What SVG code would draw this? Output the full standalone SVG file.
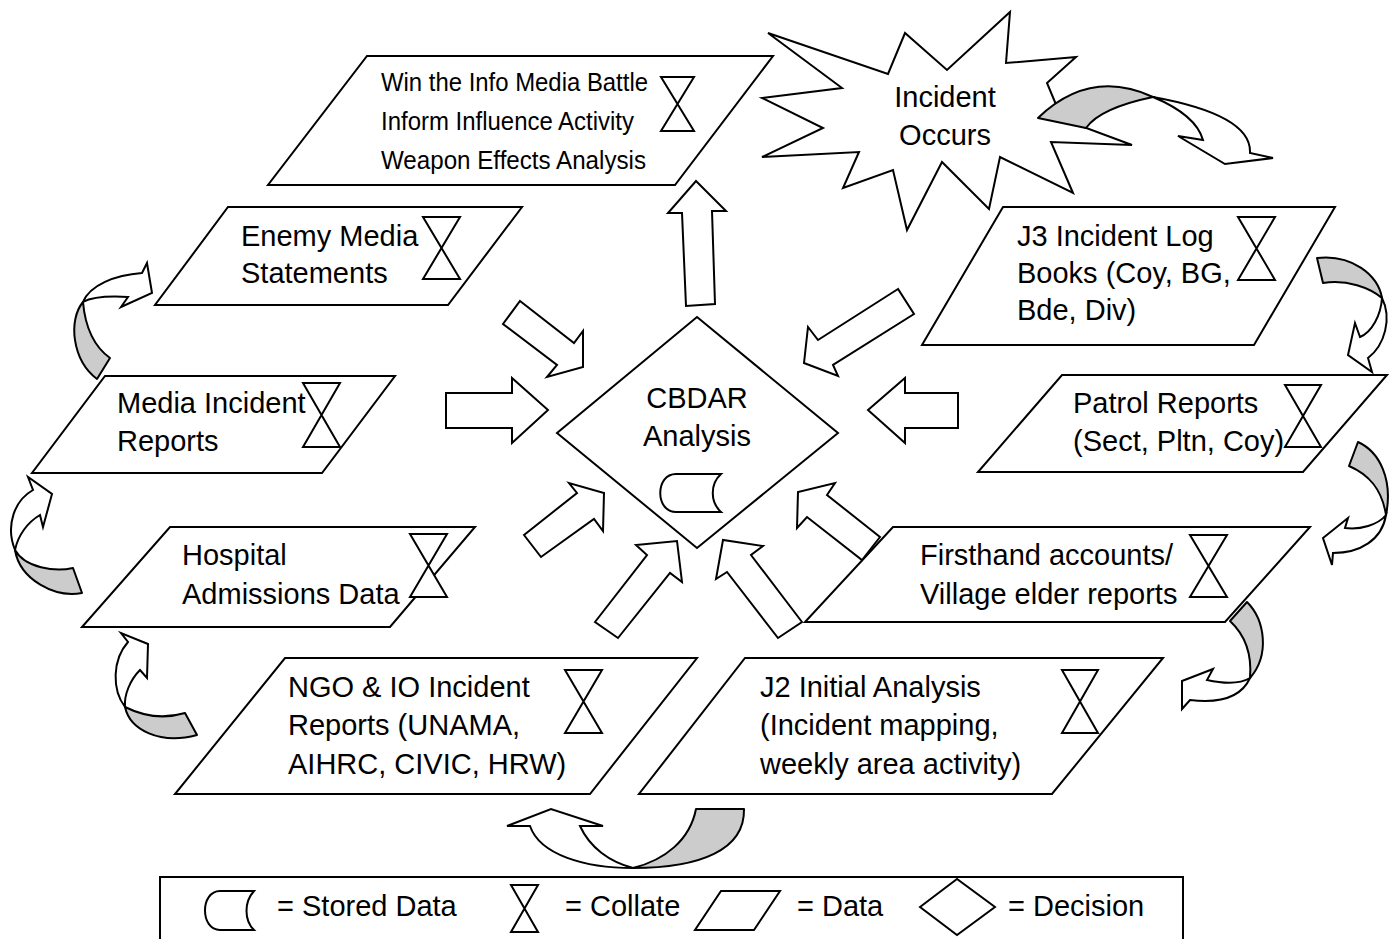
<svg xmlns="http://www.w3.org/2000/svg" width="1400" height="939" viewBox="0 0 1400 939">
<style>
.n{fill:#fff;stroke:#000;stroke-width:2;stroke-linejoin:miter}
.h{fill:#fff;stroke:#000;stroke-width:2}
.g{fill:#cccccc;stroke:#000;stroke-width:2;stroke-linejoin:round}
.w{fill:#fff;stroke:#000;stroke-width:2;stroke-linejoin:miter}
.t{font-family:"Liberation Sans",Arial,sans-serif;font-size:29px;fill:#000}
.s{font-family:"Liberation Sans",Arial,sans-serif;font-size:25px;fill:#000}
.c{text-anchor:middle}
</style>
<rect width="1400" height="939" fill="#fff"/>

<g id="node-incident">
<polygon class="n" points="768,33 888,74 905,33 947,70 1010,12 1006,63 1076,57 1047,83 1062,119 1132,145 1051,142 1073,193 1000,157 989,209 942,162 907,230 893,170 843,188 859,152 762,157 823,128 762,98 842,88"/>
<text class="t c" x="945" y="107">Incident</text>
<text class="t c" x="945" y="145">Occurs</text>
</g>

<g id="node-info">
<polygon class="n" points="367,56 773,56 675,185 268,185"/>
<text class="s" x="381" y="91" textLength="267" lengthAdjust="spacingAndGlyphs">Win the Info Media Battle</text>
<text class="s" x="381" y="130" textLength="253" lengthAdjust="spacingAndGlyphs">Inform Influence Activity</text>
<text class="s" x="381" y="169" textLength="265" lengthAdjust="spacingAndGlyphs">Weapon Effects Analysis</text>
<polygon class="h" points="661,77 694,77 661,131 694,131"/>
</g>

<g id="node-enemy">
<polygon class="n" points="228,207 522,207 448,305 155,305"/>
<text class="t" x="241" y="246">Enemy Media</text>
<text class="t" x="241" y="283">Statements</text>
<polygon class="h" points="423,217 460,217 423,279 460,279"/>
</g>

<g id="node-j3">
<polygon class="n" points="1003,207 1335,207 1254,345 922,345"/>
<text class="t" x="1017" y="246">J3 Incident Log</text>
<text class="t" x="1017" y="283">Books (Coy, BG,</text>
<text class="t" x="1017" y="320">Bde, Div)</text>
<polygon class="h" points="1238,217 1275,217 1238,280 1275,280"/>
</g>

<g id="node-media">
<polygon class="n" points="105,376 395,376 322,473 32,473"/>
<text class="t" x="117" y="413">Media Incident</text>
<text class="t" x="117" y="451">Reports</text>
<polygon class="h" points="303,383 340,383 303,447 340,447"/>
</g>

<g id="node-patrol">
<polygon class="n" points="1062,375 1387,375 1303,472 978,472"/>
<text class="t" x="1073" y="413">Patrol Reports</text>
<text class="t" x="1073" y="451">(Sect, Pltn, Coy)</text>
<polygon class="h" points="1285,385 1321,385 1285,447 1321,447"/>
</g>

<g id="node-hospital">
<polygon class="n" points="170,527 475,527 390,627 82,627"/>
<text class="t" x="182" y="565">Hospital</text>
<text class="t" x="182" y="604">Admissions Data</text>
<polygon class="h" points="410,534 447,534 410,597 447,597"/>
</g>

<g id="node-firsthand">
<polygon class="n" points="893,527 1310,527 1225,622 805,622"/>
<text class="t" x="920" y="565">Firsthand accounts/</text>
<text class="t" x="920" y="604">Village elder reports</text>
<polygon class="h" points="1190,535 1227,535 1190,597 1227,597"/>
</g>

<g id="node-ngo">
<polygon class="n" points="285,658 697,658 590,794 175,794"/>
<text class="t" x="288" y="697">NGO &amp; IO Incident</text>
<text class="t" x="288" y="735">Reports (UNAMA,</text>
<text class="t" x="288" y="774">AIHRC, CIVIC, HRW)</text>
<polygon class="h" points="565,670 602,670 565,733 602,733"/>
</g>

<g id="node-j2">
<polygon class="n" points="745,658 1163,658 1052,794 639,794"/>
<text class="t" x="760" y="697">J2 Initial Analysis</text>
<text class="t" x="760" y="735">(Incident mapping,</text>
<text class="t" x="760" y="774">weekly area activity)</text>
<polygon class="h" points="1062,670 1098,670 1062,733 1098,733"/>
</g>

<g id="node-cbdar">
<polygon class="n" points="697,317 838,433 697,548 557,433"/>
<text class="t c" x="697" y="408">CBDAR</text>
<text class="t c" x="697" y="446">Analysis</text>
<path class="h" d="M676,474 L721,474 C710,484 710,502 721,512 L676,512 C655,512 655,474 676,474 Z"/>
</g>

<g id="connectors">
<polygon class="w" points="686,306 682,213 668,213 696,181 726,211 712,211 715,304"/>
<polygon class="w" points="520,301 574,343 583,331 583,367 547,377 557,365 503,324"/>
<polygon class="w" points="898,289 818,340 808,327 804,363 838,376 833,365 914,314"/>
<polygon class="w" points="446,393 512,393 512,378 548,410 512,443 512,428 446,428"/>
<polygon class="w" points="958,393 905,393 905,378 868,410 905,443 905,428 958,428"/>
<polygon class="w" points="524,535 577,493 569,483 604,493 603,531 594,519 541,557"/>
<polygon class="w" points="595,622 647,555 636,545 677,541 682,582 670,573 618,638"/>
<polygon class="w" points="802,622 751,555 763,546 723,540 716,579 727,572 778,638"/>
<polygon class="w" points="880,537 827,495 835,483 798,492 797,528 807,517 862,560"/>

<path class="g" d="M1038,118 Q1090,68 1153,97 Q1100,108 1086,128 Z"/>
<path class="w" d="M1153,97 Q1252,115 1250,153 L1273,158 L1225,164 L1178,136 L1203,140 Q1196,115 1153,97 Z"/>

<path class="g" d="M1317,258 C1352,254 1378,275 1382,298 C1370,288 1347,279 1323,283 Z"/>
<path class="w" d="M1382,298 C1392,318 1385,345 1368,358 L1372,372 L1348,355 L1355,323 L1360,337 C1372,332 1381,315 1382,298 Z"/>

<path class="g" d="M1358,442 C1380,452 1393,480 1386,515 C1382,490 1370,475 1349,466 Z"/>
<path class="w" d="M1386,515 C1382,540 1360,553 1333,553 L1332,565 L1323,538 L1348,518 L1345,528 C1360,530 1378,525 1386,515 Z"/>

<path class="g" d="M1247,602 C1265,620 1270,655 1250,678 C1252,655 1245,635 1230,621 Z"/>
<path class="w" d="M1250,678 C1240,700 1215,703 1190,700 L1182,709 L1182,681 L1213,669 L1207,680 C1225,684 1240,684 1250,678 Z"/>

<path class="g" d="M696,809 L744,809 C745,850 700,868 633,868 C665,860 690,840 696,809 Z"/>
<path class="w" d="M633,868 C585,868 540,855 530,826 L507,826 L551,809 L603,826 L580,826 C590,848 610,862 633,868 Z"/>

<path class="g" d="M185,713 Q155,722 125,707 C130,730 160,745 197,735 Z"/>
<path class="w" d="M125,707 C112,690 112,660 128,642 L121,633 L148,644 L147,678 L140,670 C130,680 124,695 125,707 Z"/>

<path class="g" d="M73,568 C55,572 25,568 15,550 C20,580 55,598 82,593 Z"/>
<path class="w" d="M15,550 C5,525 15,500 33,490 L28,477 L52,494 L43,527 L40,515 C28,522 18,535 15,550 Z"/>

<path class="g" d="M83,302 C68,320 72,360 97,379 L110,358 C92,345 85,325 83,302 Z"/>
<path class="w" d="M83,302 C90,285 115,275 142,273 L147,263 L152,293 L121,307 L128,297 C110,296 92,297 83,302 Z"/>
</g>

<g id="legend">
<rect class="n" x="160" y="877" width="1023" height="80"/>
<path class="h" d="M220,891 L254,891 C244,902 244,920 254,930 L220,930 C200,930 200,891 220,891 Z"/>
<text class="t" x="277" y="916">= Stored Data</text>
<polygon class="h" points="511,885 538,885 511,932 538,932"/>
<text class="t" x="565" y="916">= Collate</text>
<polygon class="h" points="721,891 780,891 754,930 695,930"/>
<text class="t" x="797" y="916">= Data</text>
<polygon class="h" points="920,907 957,879 995,907 957,935"/>
<text class="t" x="1008" y="916">= Decision</text>
</g>
</svg>
